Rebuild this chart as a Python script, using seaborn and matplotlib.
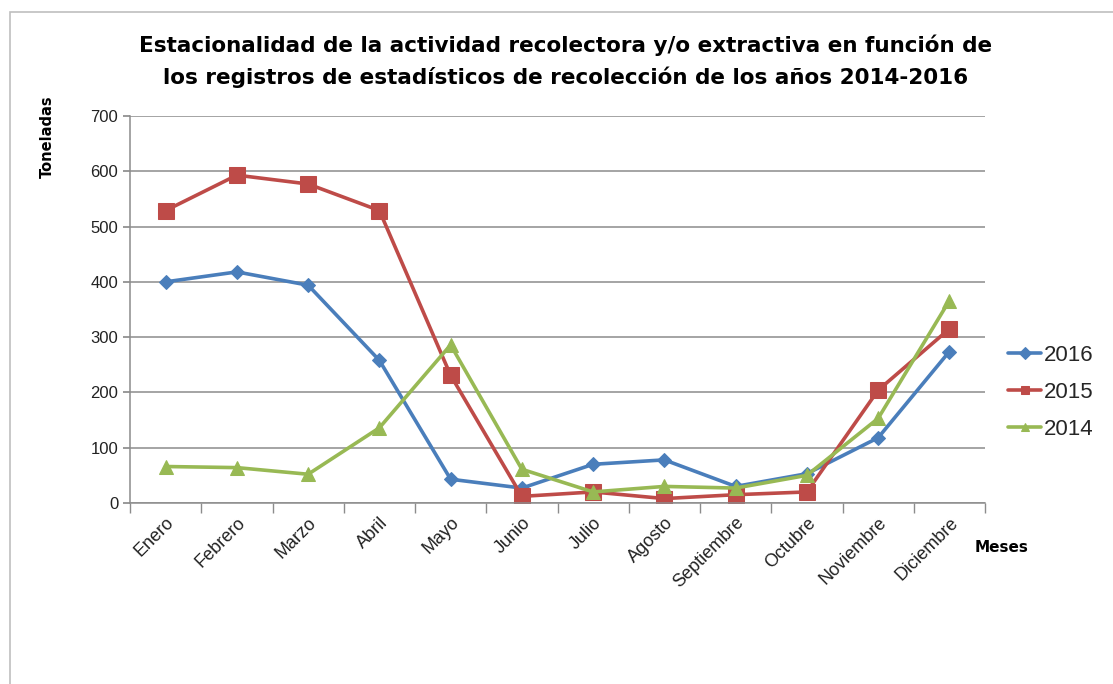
import numpy as np
import pandas as pd
import matplotlib
matplotlib.use("Agg")
import matplotlib.pyplot as plt
from matplotlib.patches import Rectangle
import seaborn as sns

meses = ["Enero", "Febrero", "Marzo", "Abril", "Mayo", "Junio", "Julio",
         "Agosto", "Septiembre", "Octubre", "Noviembre", "Diciembre"]
y2016 = [400, 418, 394, 258, 43, 27, 70, 78, 30, 53, 118, 274]
y2015 = [529, 593, 577, 529, 231, 12, 20, 8, 15, 20, 204, 315]
y2014 = [66, 64, 52, 136, 286, 61, 20, 30, 27, 50, 153, 366]
years = ["2016", "2015", "2014"]
colors = {"2016": "#4A7EBB", "2015": "#BE4B48", "2014": "#98B954"}
markers = {"2016": "D", "2015": "s", "2014": "^"}
msizes = {"2016": 7, "2015": 11, "2014": 10}

df = pd.DataFrame({
    "mes": list(range(12)) * 3,
    "valor": y2016 + y2015 + y2014,
    "año": sum([[y] * 12 for y in years], []),
})

sns.set_theme(style="white")
plt.rcParams['font.family'] = ['DejaVu Sans']

fig = plt.figure(figsize=(11.13, 6.84), dpi=100)
ax = fig.add_axes([130/1113, 1-503/684, 855/1113, 387/684])

for y in years:
    sub = df[df["año"] == y]
    sns.lineplot(data=sub, x="mes", y="valor", ax=ax, color=colors[y],
                 marker=markers[y], markersize=msizes[y], linewidth=2.6,
                 markeredgecolor=colors[y], label=y)

ax.set_xlim(-0.5, 11.5)
ax.set_ylim(0, 700)
ax.set_yticks(range(0, 701, 100))
ax.set_yticklabels([str(v) for v in range(0, 701, 100)], fontsize=12,
                   family=['Liberation Sans', 'DejaVu Sans'], color="#222222")
ax.yaxis.grid(True, color="#8c8c8c", linewidth=1.1)
ax.set_xticks(range(12))
ax.set_xticklabels(meses, rotation=45, ha="right", rotation_mode="anchor",
                   fontsize=13, family=['Liberation Sans', 'DejaVu Sans'],
                   color="#222222")
ax.set_xticks(np.arange(-0.5, 12, 1), minor=True)
ax.tick_params(axis="x", which="major", length=0, pad=8)
ax.tick_params(axis="x", which="minor", length=7, color="#8c8c8c", direction="out", bottom=True)
ax.tick_params(axis="y", length=5, color="#8c8c8c", direction="out", left=True)
for s in ["top", "right"]:
    ax.spines[s].set_visible(False)
for s in ["left", "bottom"]:
    ax.spines[s].set_color("#8c8c8c")
    ax.spines[s].set_linewidth(1.1)
ax.set_xlabel("")
ax.set_ylabel("")

fig.text(566/1113, 1-45/684,
         "Estacionalidad de la actividad recolectora y/o extractiva en función de",
         ha="center", va="center", fontsize=15.5, fontweight="bold", color="black")
fig.text(566/1113, 1-77/684,
         "los registros de estadísticos de recolección de los años 2014-2016",
         ha="center", va="center", fontsize=15.5, fontweight="bold", color="black")
fig.text(47/1113, 1-95/684, "Toneladas", rotation=90, ha="center", va="top",
         fontsize=10.5, fontweight="bold", color="black")
fig.text(1002/1113, 1-548/684, "Meses", ha="center", va="center",
         fontsize=11, fontweight="bold", color="black")

leg = ax.legend(loc="center left", bbox_to_anchor=(1.027, 0.285), frameon=False,
                handlelength=1.5, labelspacing=0.72, handletextpad=0.12,
                borderaxespad=0.0, borderpad=0.0,
                prop={'family': ['Liberation Sans', 'DejaVu Sans'], 'size': 16})
for h in leg.legend_handles:
    h.set_markersize(6)

fig.patches.append(Rectangle((10/1113, -0.1), 1.2, 1-12/684 + 0.1,
                             transform=fig.transFigure, fill=False,
                             edgecolor="#bfbfbf", linewidth=1.2))

fig.savefig("out.png", dpi=100)
